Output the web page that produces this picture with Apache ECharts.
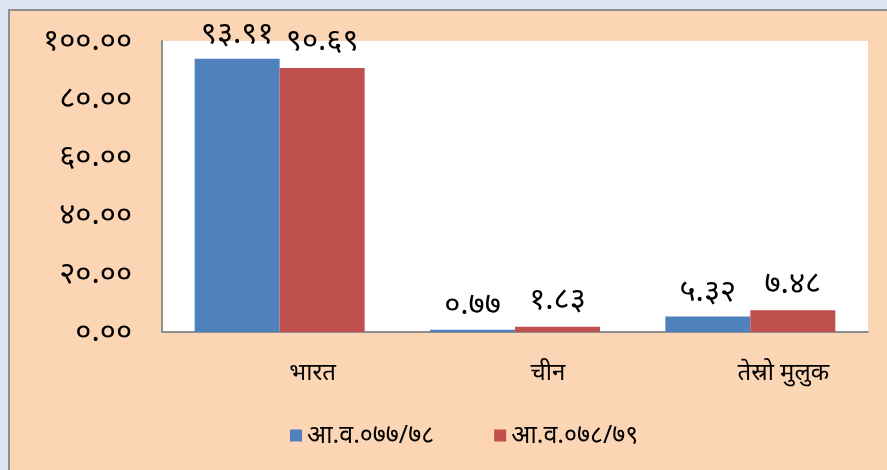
<!DOCTYPE html>
<html>
<head>
<meta charset="utf-8">
<script src="https://cdn.jsdelivr.net/npm/echarts@6/dist/echarts.min.js"></script>
<style>
  html, body { margin: 0; padding: 0; background: #dce6f2; }
  #panel {
    position: absolute; left: 8px; top: 9px; width: 890px; height: 470px;
    background: #fcd5b5; border-left: 2px solid #8e8e8e; border-top: 2px solid #8e8e8e;
  }
  #main { position: absolute; left: 0; top: 0; width: 887px; height: 470px; }
</style>
</head>
<body>
<div id="panel"></div>
<div id="main"></div>
<script>
  // देश
  var categories = ['भारत', 'चीन', 'तेस्रो मुलुक']
  var seriesNames = ['आ.व.०७७/७८', 'आ.व.०७८/७९']
  var values7778 = [93.91, 0.77, 5.32]
  var values7879 = [90.69, 1.83, 7.48]

  var npDigits = ['०', '१', '२', '३', '४', '५', '६', '७', '८', '९']
  function toNepali (str) {
    return String(str).replace(/[0-9]/g, function (d) { return npDigits[+d] })
  }

  var chart = echarts.init(document.getElementById('main'))
  var fontFam = '"Noto Sans", "DejaVu Sans", sans-serif'

  var option = {
    backgroundColor: 'transparent',
    textStyle: { fontFamily: fontFam },
    grid: {
      left: 162, top: 41, right: 19, bottom: 138,
      show: true, backgroundColor: '#ffffff', borderWidth: 0
    },
    legend: {
      left: 285, top: 418,
      itemWidth: 12, itemHeight: 12, itemGap: 60,
      icon: 'rect',
      textStyle: { fontSize: 25, color: '#000', fontFamily: fontFam },
      data: seriesNames
    },
    xAxis: {
      type: 'category',
      data: categories,
      axisLine: { lineStyle: { color: '#8e8e8e', width: 2 } },
      axisTick: { show: false },
      axisLabel: {
        fontSize: 24, color: '#000', margin: 29,
        padding: [0, 0, 0, 66]
      }
    },
    yAxis: {
      type: 'value',
      min: 0, max: 100, interval: 20,
      splitLine: { show: false },
      axisLine: { show: true, lineStyle: { color: '#8e8e8e', width: 2 } },
      axisTick: { show: false },
      axisLabel: {
        fontSize: 31, color: '#000', margin: 30,
        formatter: function (v) { return toNepali(v.toFixed(2)) }
      }
    },
    series: [
      {
        name: seriesNames[0],
        type: 'bar',
        barWidth: 85,
        barGap: '0%',
        itemStyle: { color: '#4f81bd' },
        label: {
          show: true, position: 'top', distance: 9,
          fontSize: 31, color: '#000',
          formatter: function (p) { return toNepali(p.value.toFixed(2)) }
        },
        data: values7778
      },
      {
        name: seriesNames[1],
        type: 'bar',
        barWidth: 85,
        barGap: '0%',
        itemStyle: { color: '#c0504d' },
        label: {
          show: true, position: 'top', distance: 11,
          fontSize: 31, color: '#000',
          formatter: function (p) { return toNepali(p.value.toFixed(2)) }
        },
        data: values7879
      }
    ]
  }

  chart.setOption(option)
  window.addEventListener('resize', () => {
    chart.resize()
  })
</script>
</body>
</html>
